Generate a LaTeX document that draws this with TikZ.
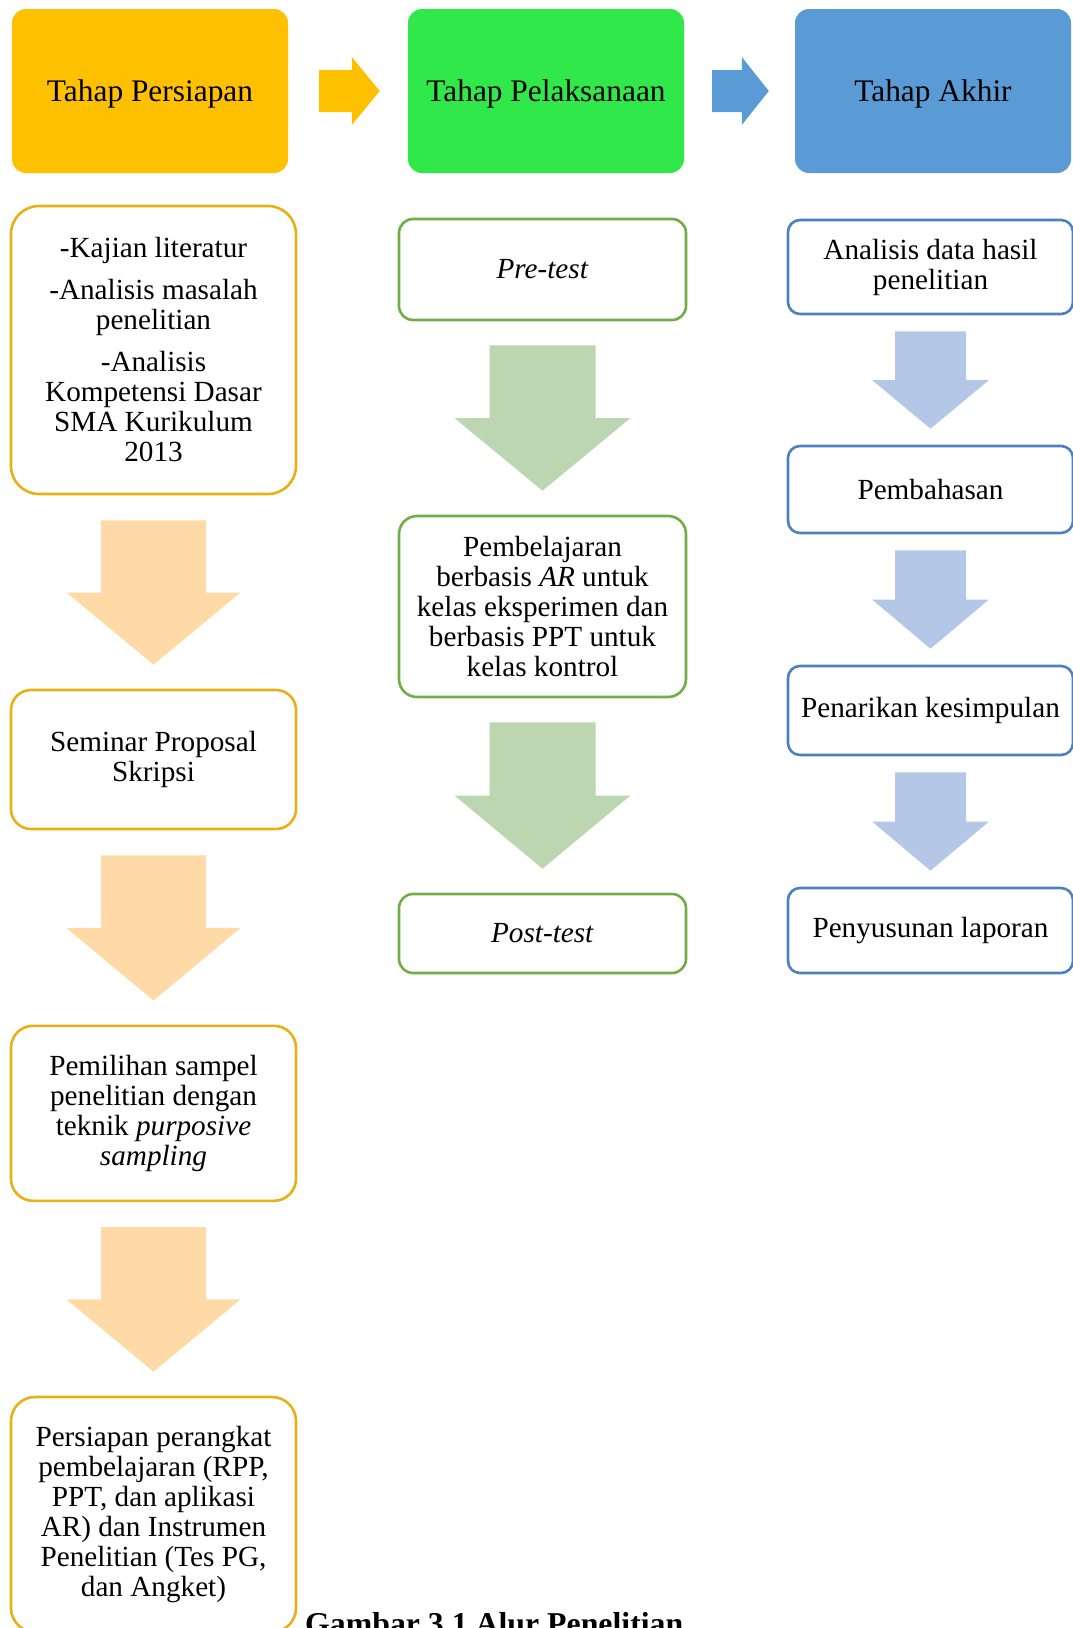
\documentclass[tikz,border=0pt]{standalone}
\usepackage{fontspec}
\setmainfont{Liberation Serif}
\usetikzlibrary{calc}
\definecolor{hdrA}{RGB}{255,192,0}
\definecolor{hdrB}{RGB}{49,232,74}
\definecolor{hdrC}{RGB}{91,155,213}
\definecolor{brdA}{RGB}{233,176,20}
\definecolor{brdB}{RGB}{112,173,71}
\definecolor{brdC}{RGB}{76,128,190}
\definecolor{arrA}{RGB}{255,218,166}
\definecolor{arrB}{RGB}{187,214,176}
\definecolor{arrC}{RGB}{180,199,231}
\newcommand\bodyfont{\fontsize{29.2}{30}\selectfont}
% vertical block arrow between two named nodes
% #1 from, #2 to, #3 colour, #4 shaft half width, #5 head half width, #6 top gap, #7 bottom gap
\newcommand\downblock[7]{%
  \fill[#3] let \p1=(#1.south), \p2=(#2.north),
      \p3=(\x1,\y1-#6pt), \p4=(\x1,\y2+#7pt), \p5=($(\p3)!0.5!(\p4)$) in
    (\x3-#4pt,\y3) -- (\x3+#4pt,\y3) -- (\x3+#4pt,\y5) -- (\x3+#5pt,\y5)
    -- (\x4,\y4) -- (\x3-#5pt,\y5) -- (\x3-#4pt,\y5) -- cycle;}
% horizontal block arrow: #1 from, #2 to, #3 colour, #4 left gap, #5 right gap, #6 head length
\newcommand\rightblock[6]{%
  \fill[#3] let \p1=(#1.east), \p2=(#2.west),
      \p3=(\x1+#4pt,\y1), \p4=(\x2-#5pt,\y1) in
    (\x3,\y3+21pt) -- (\x4-#6pt,\y3+21pt) -- (\x4-#6pt,\y3+34pt) -- (\x4,\y4)
    -- (\x4-#6pt,\y3-34pt) -- (\x4-#6pt,\y3-21pt) -- (\x3,\y3-21pt) -- cycle;}
\begin{document}
\begin{tikzpicture}[x=1pt,y=-1pt,
  hdr/.style={rounded corners=14pt, minimum width=276pt, minimum height=164pt,
    inner sep=0pt, align=center, text depth=0pt, font=\fontsize{31.4}{33}\selectfont},
  boxbase/.style={line width=2.6pt, fill=white, inner sep=0pt, align=center, font=\bodyfont},
  lbox/.style={boxbase, draw=brdA, minimum width=285pt},
  mbox/.style={boxbase, draw=brdB, minimum width=287pt},
  rbox/.style={boxbase, draw=brdC, minimum width=285pt, rounded corners=12pt}
]
\useasboundingbox (0,0) rectangle (1072,1628);

% headers
\node[hdr, fill=hdrA] (h1) at (150,91) {Tahap Persiapan};
\node[hdr, fill=hdrB] (h2) at (546,91) {Tahap Pelaksanaan};
\node[hdr, fill=hdrC] (h3) at (933,91) {Tahap Akhir};
\rightblock{h1}{h2}{hdrA}{31}{28}{28}
\rightblock{h2}{h3}{hdrC}{28}{26}{27}

% left column
\node[lbox, rounded corners=28pt, minimum height=288pt] (l1) at (153.5,350)
  {-Kajian literatur\\[12pt]-Analisis masalah\\penelitian\\[12pt]-Analisis\\Kompetensi Dasar\\SMA Kurikulum\\2013};
\node[lbox, rounded corners=20pt, minimum height=139pt] (l2) at (153.5,759.5)
  {Seminar Proposal\\Skripsi};
\node[lbox, rounded corners=22pt, minimum height=175pt] (l3) at (153.5,1113.3)
  {Pemilihan sampel\\penelitian dengan\\teknik \textit{purposive}\\\textit{sampling}};
\node[lbox, rounded corners=24pt, minimum height=235pt] (l4) at (153.5,1514.5)
  {Persiapan perangkat\\pembelajaran (RPP,\\PPT, dan aplikasi\\AR) dan Instrumen\\Penelitian (Tes PG,\\dan Angket)};
\downblock{l1}{l2}{arrA}{52.5}{87}{25}{24}
\downblock{l2}{l3}{arrA}{52.5}{87}{25}{24}
\downblock{l3}{l4}{arrA}{52.5}{87}{25}{24}

% middle column
\node[mbox, rounded corners=14pt, minimum height=101pt] (m1) at (542.5,269.5) {\textit{Pre-test}};
\node[mbox, rounded corners=18pt, minimum height=181pt] (m2) at (542.5,606.5)
  {Pembelajaran\\berbasis \textit{AR} untuk\\kelas eksperimen dan\\berbasis PPT untuk\\kelas kontrol};
\node[mbox, rounded corners=14pt, minimum height=79pt] (m3) at (542.5,933.5) {\textit{Post-test}};
\downblock{m1}{m2}{arrB}{53}{88}{24}{24}
\downblock{m2}{m3}{arrB}{53}{88}{24}{24}

% right column
\node[rbox, minimum height=94pt] (r1) at (930.5,267) {Analisis data hasil\\penelitian};
\node[rbox, minimum height=87pt] (r2) at (930.5,489.5) {Pembahasan};
\node[rbox, minimum height=89pt] (r3) at (930.5,710.5) {Penarikan kesimpulan};
\node[rbox, minimum height=85pt] (r4) at (930.5,930.5) {Penyusunan laporan};
\downblock{r1}{r2}{arrC}{35.5}{58.5}{16}{16}
\downblock{r2}{r3}{arrC}{35.5}{58.5}{16}{16}
\downblock{r3}{r4}{arrC}{35.5}{58.5}{16}{16}

% caption (cut by the lower edge, as in the reference)
\node[anchor=base west, inner sep=0pt, font=\bfseries\fontsize{31.8}{34}\selectfont] (cap) at (305,1634)
  {Gambar 3.1 Alur Penelitian};
\end{tikzpicture}
\end{document}
